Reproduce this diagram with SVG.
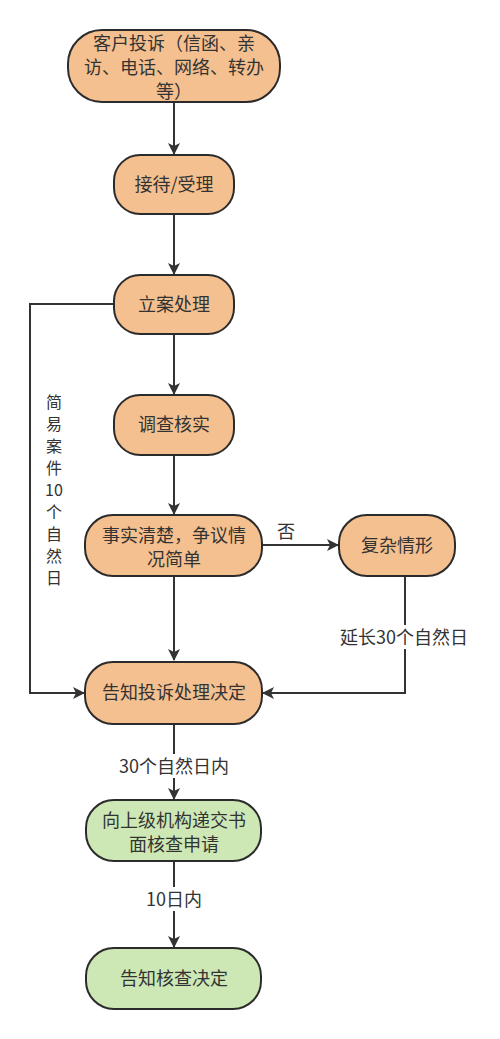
<svg xmlns="http://www.w3.org/2000/svg" width="500" height="1039" viewBox="0 0 500 1039">
<style>
.o{fill:#F5C08F;stroke:#2b2b2b;stroke-width:2}
.g{fill:#CDE8B5;stroke:#2b2b2b;stroke-width:2}
.t{font-family:"Noto Sans CJK SC","Liberation Sans",sans-serif;font-size:18px;fill:#333;text-anchor:middle}
.l{font-family:"Noto Sans CJK SC","Liberation Sans",sans-serif;font-size:18px;fill:#333;text-anchor:middle}
.v{font-family:"Noto Sans CJK SC","Liberation Sans",sans-serif;font-size:16px;fill:#333;text-anchor:middle}
.e{fill:none;stroke:#333;stroke-width:2}
</style>
<defs>
<marker id="a" viewBox="0 0 12 12" refX="11" refY="6" markerWidth="12" markerHeight="12" markerUnits="userSpaceOnUse" orient="auto">
<path d="M0,0 L12,6 L0,12 L3,6 Z" fill="#333"/>
</marker>
</defs>
<rect width="500" height="1039" fill="#fff"/>
<g id="edges">
<path class="e" d="M174,102 V154" marker-end="url(#a)"/>
<path class="e" d="M174,214 V274" marker-end="url(#a)"/>
<path class="e" d="M174,334 V394" marker-end="url(#a)"/>
<path class="e" d="M174,455 V514" marker-end="url(#a)"/>
<path class="e" d="M174,576 V660" marker-end="url(#a)"/>
<path class="e" d="M262,545 H338" marker-end="url(#a)"/>
<text class="l" x="286" y="538">否</text>
<path class="e" d="M405,576 V693 H263" marker-end="url(#a)"/>
<rect x="337" y="625" width="136" height="24" fill="#fff"/>
<text class="l" x="404" y="644">延长30个自然日</text>
<path class="e" d="M114,304 H30 V693 H84" marker-end="url(#a)"/>
<text class="v"><tspan x="54" y="408">简</tspan><tspan x="54" y="430">易</tspan><tspan x="54" y="452">案</tspan><tspan x="54" y="474">件</tspan><tspan x="54" y="496">10</tspan><tspan x="54" y="518">个</tspan><tspan x="54" y="540">自</tspan><tspan x="54" y="562">然</tspan><tspan x="54" y="584">日</tspan></text>
<path class="e" d="M174,724 V799" marker-end="url(#a)"/>
<rect x="114" y="754" width="120" height="24" fill="#fff"/>
<text class="l" x="174" y="773">30个自然日内</text>
<path class="e" d="M174,862 V947" marker-end="url(#a)"/>
<rect x="138" y="887" width="72" height="24" fill="#fff"/>
<text class="l" x="174" y="906">10日内</text>
</g>
<g id="n1"><rect class="o" x="68" y="30" width="212" height="72" rx="34"/>
<text class="t"><tspan x="174" y="50">客户投诉（信函、亲</tspan><tspan x="174" y="74">访、电话、网络、转办</tspan><tspan x="174" y="98">等）</tspan></text></g>
<g id="n2"><rect class="o" x="114" y="155" width="120" height="59" rx="26"/>
<text class="t" x="174" y="191">接待/受理</text></g>
<g id="n3"><rect class="o" x="114" y="275" width="120" height="59" rx="26"/>
<text class="t" x="174" y="311">立案处理</text></g>
<g id="n4"><rect class="o" x="114" y="395" width="120" height="60" rx="26"/>
<text class="t" x="174" y="431">调查核实</text></g>
<g id="n5"><rect class="o" x="85" y="515" width="177" height="61" rx="28"/>
<text class="t"><tspan x="174" y="542">事实清楚，争议情</tspan><tspan x="174" y="566">况简单</tspan></text></g>
<g id="n6"><rect class="o" x="339" y="515" width="116" height="61" rx="28"/>
<text class="t" x="397" y="552">复杂情形</text></g>
<g id="n7"><rect class="o" x="85" y="662" width="177" height="62" rx="28"/>
<text class="t" x="174" y="699">告知投诉处理决定</text></g>
<g id="n8"><rect class="g" x="86" y="800" width="175" height="61" rx="28"/>
<text class="t"><tspan x="174" y="827">向上级机构递交书</tspan><tspan x="174" y="851">面核查申请</tspan></text></g>
<g id="n9"><rect class="g" x="86" y="948" width="175" height="61" rx="28"/>
<text class="t" x="174" y="985">告知核查决定</text></g>
</svg>
